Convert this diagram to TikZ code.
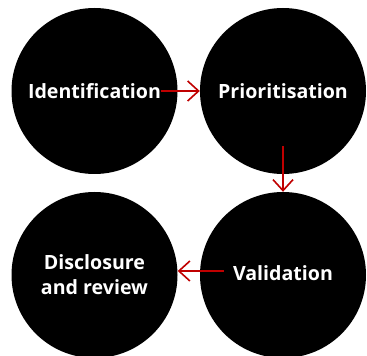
\documentclass[tikz,border=0pt]{standalone}
\usepackage{fontspec}
\setmainfont{Open Sans}
\usetikzlibrary{arrows.meta,calc}
\definecolor{arrred}{HTML}{C00000}
\tikzset{
  stage/.style={circle, fill=black, minimum size=166pt, inner sep=0pt, text=white,
    font=\fontsize{19.6}{25}\selectfont\bfseries, align=center},
  arr/.style={draw=arrred, line width=1.6pt, -{Straight Barb[length=11pt,width=20pt,line width=1.6pt]}},
  halo/.style={draw=white, line width=5pt, -{Straight Barb[length=11pt,width=20pt,line width=5pt]}}
}
\begin{document}
\begin{tikzpicture}[x=1pt,y=1pt]
\useasboundingbox (0,0) rectangle (367,356);
\node[stage] (c1) at (94.5,265) {Identification};
\node[stage] (c2) at (283,265) {Prioritisation};
\node[stage] (c3) at (94.5,81) {Disclosure\\and review};
\node[stage] (c4) at (283,81) {\raisebox{3.5pt}{Validation}};
% halos
\draw[halo] ([xshift=-2pt]c2.west) -- (c2.west);
\draw[halo] ([yshift=2pt]c4.north) -- (c4.north);
\draw[halo] ([xshift=2pt,yshift=4pt]c3.east) -- ([yshift=4pt]c3.east);
% arrows
\draw[arr] ([xshift=-17pt]c1.east) -- (c2.west);
\draw[arr] ([yshift=28pt]c2.south) -- (c4.north);
\draw[arr] ([xshift=24pt,yshift=4pt]c4.west) -- ([yshift=4pt]c3.east);
\end{tikzpicture}
\end{document}
